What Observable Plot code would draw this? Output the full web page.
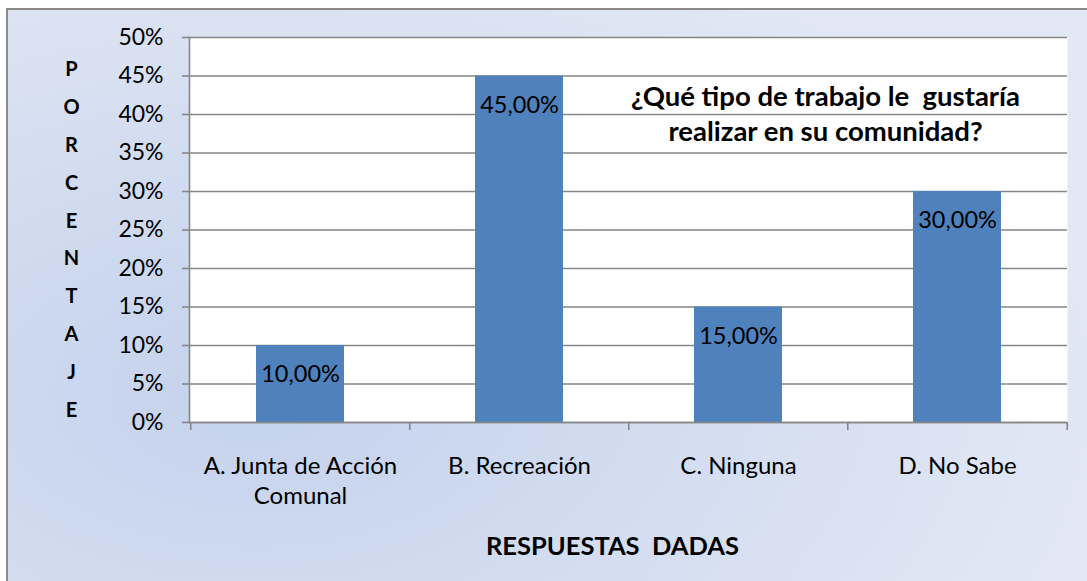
<!DOCTYPE html>
<html>
<head>
<meta charset="utf-8">
<script src="https://cdn.jsdelivr.net/npm/d3@7"></script>
<script src="https://cdn.jsdelivr.net/npm/@observablehq/plot@0.6"></script>
<style>
  html, body { margin: 0; padding: 0; background: #fff; overflow: hidden; }
  #wrap { position: relative; width: 1087px; height: 581px; overflow: hidden; }
  #bg { position: absolute; left: 6px; top: 8px; width: 1120px; height: 620px;
        border-left: 2px solid #8a8a8a; border-top: 2px solid #8a8a8a;
        background: radial-gradient(ellipse 75% 80% at 22% 62%, #c4d2ec 0%, #d3ddf0 50%, #e1e7f4 100%); }
  #chart { position: absolute; left: 0; top: 0; }
  svg text { white-space: pre; }
</style>
</head>
<body>
<div id="wrap"><div id="bg"></div><div id="chart"></div></div>
<script>
const categories = ["A. Junta de Acción Comunal", "B. Recreación", "C. Ninguna", "D. No Sabe"];
const tickLabels = ["A. Junta de Acción\nComunal", "B. Recreación", "C. Ninguna", "D. No Sabe"];
const values = [10, 45, 15, 30];
const yTicks = [0, 5, 10, 15, 20, 25, 30, 35, 40, 45, 50];
const titleText = "¿Qué tipo de trabajo le  gustaría\nrealizar en su comunidad?";
const yLabel = "PORCENTAJE";
const xLabel = "RESPUESTAS  DADAS";

const data = categories.map((c, i) => ({cat: c, value: values[i]}));
const W = 1087, H = 581, mL = 189, mR = 20, mT = 37, mB = 159;
const step = (W - mL - mR) / categories.length;
const grid = "#868686";

const chart = Plot.plot({
  width: W, height: H,
  marginLeft: mL, marginRight: mR, marginTop: mT, marginBottom: mB,
  style: {background: "transparent", fontFamily: "Lato, 'Open Sans', sans-serif", fontSize: "23px", color: "#000", overflow: "visible"},
  x: {domain: categories, paddingInner: 0.6, paddingOuter: 0.3, axis: null},
  y: {domain: [0, 50], axis: null},
  marks: [
    Plot.frame({fill: "white", stroke: null}),
    Plot.ruleY(yTicks, {stroke: grid, strokeWidth: 1.6}),
    Plot.barY(data, {x: "cat", y: "value", fill: "#4F81BD"}),
    Plot.frame({anchor: "left", stroke: grid, strokeWidth: 1.6}),
    Plot.ruleY([0], {stroke: grid, strokeWidth: 1.6}),
    Plot.axisY({ticks: yTicks, tickSize: 7, tickPadding: 19, stroke: grid, strokeWidth: 1.6, label: null,
      tickFormat: d => d + "%", fontSize: 23, fill: "#000"}),
    Plot.tickX(categories, {x: d => d, dx: -step / 2, insetTop: H - mT - mB, insetBottom: -8, stroke: grid, strokeWidth: 1.6}),
    Plot.tickX([categories[categories.length - 1]], {x: d => d, dx: step / 2, insetTop: H - mT - mB, insetBottom: -8, stroke: grid, strokeWidth: 1.6}),
    Plot.axisX({tickSize: 0, tickPadding: 30, lineAnchor: "top", lineHeight: 30 / 24, fontSize: 24, fill: "#000", label: null,
      tickFormat: d => tickLabels[categories.indexOf(d)]}),
    Plot.text(data, {x: "cat", y: "value", text: d => d.value.toFixed(2).replace(".", ",") + "%",
      dy: 29, fontSize: 23.5, fill: "#000"}),
    Plot.text([titleText], {frameAnchor: "top", dx: 197, dy: 44, lineAnchor: "top", lineHeight: 35 / 27.5,
      fontSize: 27.5, fontWeight: "bold", fill: "#000", text: d => d}),
    Plot.text([yLabel.split("").join("\n")], {frameAnchor: "top-left", dx: 71 - mL, dy: 12, lineAnchor: "top",
      textAnchor: "middle", lineHeight: 37.8 / 20, fontSize: 20, fontWeight: "bold", fill: "#000", text: d => d}),
    Plot.text([xLabel], {frameAnchor: "bottom", dx: -16, dy: 114, lineAnchor: "top",
      fontSize: 25.5, fontWeight: "bold", fill: "#000", text: d => d})
  ]
});
document.getElementById("chart").appendChild(chart);
</script>
</body>
</html>
